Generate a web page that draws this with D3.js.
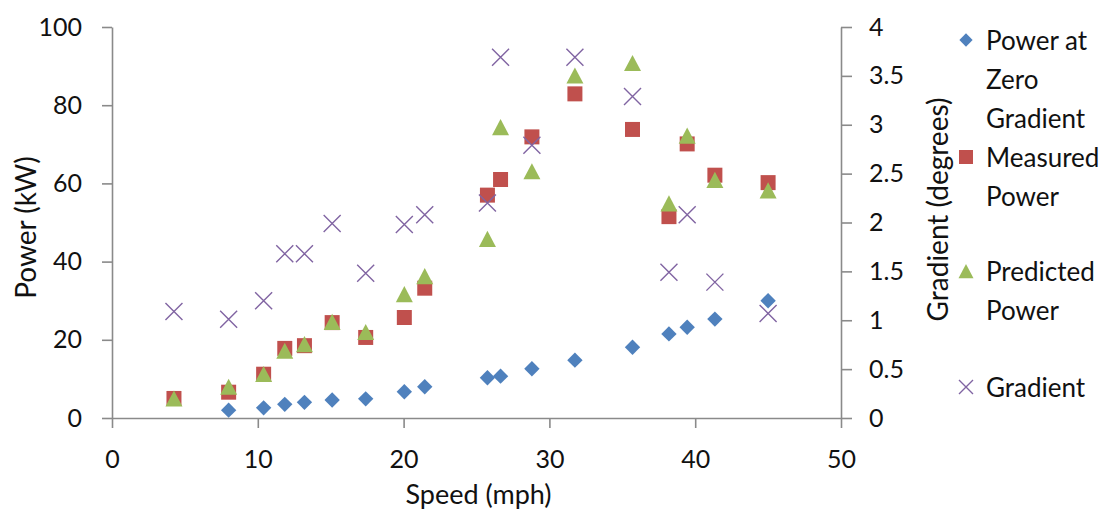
<!DOCTYPE html>
<meta charset="utf-8">
<head>
  <meta charset="utf-8">
  <title>Power vs Speed</title>
  <style>
    body { margin: 0; background: #fff; }
    text { font-family: Lato, "Open Sans", sans-serif; fill: #111; }
    .axis path, .axis line { fill: none; stroke: #8a8a8a; stroke-width: 1.6px; }
    .axis text { font-size: 25px; font-family: Lato, sans-serif; fill: #111; }
  </style>
</head>
<body>
<div id="chart"></div>
<script src="https://d3js.org/d3.v7.min.js"></script>
<script>

// data
var speed     = [4.25, 8.0, 10.4, 11.85, 13.2, 15.1, 17.4, 20.05, 21.45, 25.75, 26.65, 28.8, 31.75, 35.7, 38.2, 39.45, 41.35, 45.0];
var zeroGrad  = [null, 2.0, 2.6, 3.5, 4.0, 4.6, 4.9, 6.7, 8.0, 10.3, 10.7, 12.6, 14.8, 18.1, 21.5, 23.2, 25.3, 30.0];
var measured  = [5.0, 6.6, 11.2, 17.8, 18.5, 24.4, 20.6, 25.7, 33.2, 57.0, 61.0, 71.9, 82.9, 73.8, 51.5, 70.1, 62.1, 60.2];
var predicted = [5.0, 8.0, 11.25, 17.2, 18.9, 24.6, 22.0, 31.7, 36.3, 45.8, 74.4, 63.1, 87.6, 90.8, 54.9, 72.2, 60.9, 58.2];
var gradient  = [1.09, 1.01, 1.20, 1.68, 1.68, 1.99, 1.48, 1.98, 2.08, 2.20, 3.69, 2.79, 3.69, 3.29, 1.49, 2.08, 1.39, 1.07];

var xTicks = [0, 10, 20, 30, 40, 50];
var yTicks = [0, 20, 40, 60, 80, 100];
var y2Ticks = [0, 0.5, 1, 1.5, 2, 2.5, 3, 3.5, 4];

var legendLines = [["Power at", "Zero", "Gradient"], ["Measured", "Power"], ["Predicted", "Power"], ["Gradient"]];

var colors = {zero: "#4f81bd", meas: "#c0504d", pred: "#9bbb59", grad: "#8064a2"};

var W = 1112, H = 512;
var margin = {top: 27, right: 271, bottom: 94, left: 112},
    width = W - margin.left - margin.right,
    height = H - margin.top - margin.bottom;

var svg = d3.select("#chart").append("svg")
    .attr("width", W)
    .attr("height", H)
  .append("g")
    .attr("transform", "translate(" + margin.left + "," + margin.top + ")");

var x = d3.scaleLinear().domain([0, 50]).range([0, width]);
var y = d3.scaleLinear().domain([0, 100]).range([height, 0]);
var y2 = d3.scaleLinear().domain([0, 4]).range([height, 0]);

// axes
svg.append("g")
    .attr("class", "axis")
    .attr("transform", "translate(0," + height + ")")
    .call(d3.axisBottom(x).tickValues(xTicks).tickSize(10).tickSizeOuter(0).tickPadding(22));

svg.append("g")
    .attr("class", "axis")
    .call(d3.axisLeft(y).tickValues(yTicks).tickSize(10).tickSizeOuter(0).tickPadding(20));

svg.append("g")
    .attr("class", "axis")
    .attr("transform", "translate(" + width + ",0)")
    .call(d3.axisRight(y2).tickValues(y2Ticks).tickFormat(d3.format("")).tickSize(11).tickSizeOuter(0).tickPadding(17));

// axis titles
svg.append("text")
    .attr("text-anchor", "middle")
    .attr("dominant-baseline", "central")
    .attr("x", width / 2 + 2)
    .attr("y", height + 75)
    .style("font-size", "27px")
    .text("Speed (mph)");

svg.append("text")
    .attr("text-anchor", "middle")
    .attr("dominant-baseline", "central")
    .attr("transform", "translate(" + (-87) + "," + (height / 2 + 5) + ") rotate(-90)")
    .style("font-size", "28px")
    .text("Power (kW)");

svg.append("text")
    .attr("text-anchor", "middle")
    .attr("dominant-baseline", "central")
    .attr("transform", "translate(" + (width + 96) + "," + (height / 2 - 13) + ") rotate(-90)")
    .style("font-size", "28px")
    .text("Gradient (degrees)");

// marker shapes
var diamond = d3.symbol().type(d3.symbolSquare).size(118);
var square = d3.symbol().type(d3.symbolSquare).size(225);
function triangle(s) {
  var h = s * 0.95;
  return "M0," + (-h / 2) + "L" + (s / 2) + "," + (h / 2) + "L" + (-s / 2) + "," + (h / 2) + "Z";
}
function cross(r) {
  return "M" + (-r) + "," + (-r) + "L" + r + "," + r + "M" + (-r) + "," + r + "L" + r + "," + (-r);
}

var pts = speed.map(function(s, i) {
  return {s: s, zero: zeroGrad[i], meas: measured[i], pred: predicted[i], grad: gradient[i]};
});

svg.append("g").selectAll("path")
  .data(pts.filter(function(d) { return d.zero != null; }))
  .enter().append("path")
    .attr("d", diamond)
    .attr("transform", function(d) { return "translate(" + x(d.s) + "," + y(d.zero) + ") rotate(45)"; })
    .style("fill", colors.zero);

svg.append("g").selectAll("path")
  .data(pts)
  .enter().append("path")
    .attr("d", square)
    .attr("transform", function(d) { return "translate(" + x(d.s) + "," + y(d.meas) + ")"; })
    .style("fill", colors.meas);

svg.append("g").selectAll("path")
  .data(pts)
  .enter().append("path")
    .attr("d", triangle(17))
    .attr("transform", function(d) { return "translate(" + x(d.s) + "," + y(d.pred) + ")"; })
    .style("fill", colors.pred);

svg.append("g").selectAll("path")
  .data(pts)
  .enter().append("path")
    .attr("d", cross(8.5))
    .attr("transform", function(d) { return "translate(" + x(d.s) + "," + y2(d.grad) + ")"; })
    .style("fill", "none")
    .style("stroke", colors.grad)
    .style("stroke-width", 1.4);

// legend
var legendTop = [40, 157, 271, 387];
var lineH = 39;
var lg = d3.select("svg").append("g").attr("transform", "translate(966,0)");
var markers = [
  function(g) { g.append("path").attr("d", d3.symbol().type(d3.symbolSquare).size(88)).attr("transform", "rotate(45)").style("fill", colors.zero); },
  function(g) { g.append("path").attr("d", d3.symbol().type(d3.symbolSquare).size(196)).style("fill", colors.meas); },
  function(g) { g.append("path").attr("d", triangle(15)).style("fill", colors.pred); },
  function(g) { g.append("path").attr("d", cross(7)).style("fill", "none").style("stroke", colors.grad).style("stroke-width", 1.4); }
];
legendLines.forEach(function(lines, i) {
  var item = lg.append("g").attr("transform", "translate(0," + legendTop[i] + ")");
  markers[i](item);
  lines.forEach(function(t, j) {
    item.append("text")
      .attr("x", 20)
      .attr("y", j * lineH)
      .attr("dominant-baseline", "central")
      .style("font-size", "26px")
      .text(t);
  });
});

</script>
</body>
